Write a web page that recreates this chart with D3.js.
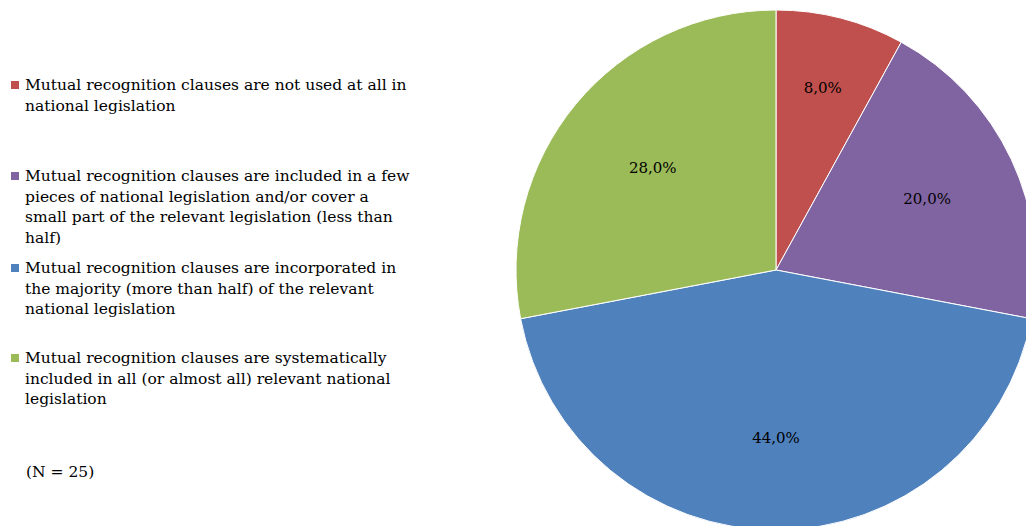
<!DOCTYPE html>
<html>
<head>
<meta charset="utf-8">
<script src="https://cdn.jsdelivr.net/npm/d3@7"></script>
<style>
html,body{margin:0;padding:0;background:#fff;overflow:hidden;}
svg{display:block;}
</style>
</head>
<body>
<svg id="chart" width="1026" height="526"></svg>
<script>
const categories = [
  "Mutual recognition clauses are not used at all in national legislation",
  "Mutual recognition clauses are included in a few pieces of national legislation and/or cover a small part of the relevant legislation (less than half)",
  "Mutual recognition clauses are incorporated in the majority (more than half) of the relevant national legislation",
  "Mutual recognition clauses are systematically included in all (or almost all) relevant national legislation"
];
const legendLines = [
  ["Mutual recognition clauses are not used at all in", "national legislation"],
  ["Mutual recognition clauses are included in a few", "pieces of national legislation and/or cover a", "small part of the relevant legislation (less than", "half)"],
  ["Mutual recognition clauses are incorporated in", "the majority (more than half) of the relevant", "national legislation"],
  ["Mutual recognition clauses are systematically", "included in all (or almost all) relevant national", "legislation"]
];
const values = [8.0, 20.0, 44.0, 28.0];
const colors = ["#C0504D", "#8064A2", "#4F81BD", "#9BBB59"];
const note = "(N = 25)";

const svg = d3.select("#chart");
const font = "'DejaVu Serif', Georgia, serif";

const cx = 776, cy = 270, R = 260;
const labelRadius = [188, 167, 168, 160];
const pie = d3.pie().sort(null).value(d => d);
const arcs = pie(values);
const arc = d3.arc().innerRadius(0).outerRadius(R);

const g = svg.append("g").attr("transform", `translate(${cx},${cy})`);
g.selectAll("path").data(arcs).join("path")
  .attr("d", arc)
  .attr("fill", (d, i) => colors[i])
  .attr("stroke", "#fff")
  .attr("stroke-width", 1);

const fmt = v => d3.format(".1f")(v).replace(".", ",") + "%";
g.selectAll("text").data(arcs).join("text")
  .attr("transform", (d, i) => {
    const lr = labelRadius[i];
    const c = d3.arc().innerRadius(lr).outerRadius(lr).centroid(d);
    return `translate(${c[0]},${c[1]})`;
  })
  .attr("text-anchor", "middle")
  .attr("dy", "0.35em")
  .attr("font-family", font)
  .attr("font-size", 15)
  .attr("fill", "#000")
  .text(d => fmt(d.data));

// legend
const legendTop = [85, 176, 268, 358];
const lineH = 20.5;
const leg = svg.append("g");
legendLines.forEach((lines, i) => {
  leg.append("rect").attr("x", 11).attr("y", legendTop[i] - 4).attr("width", 8).attr("height", 8).attr("fill", colors[i]);
  lines.forEach((t, j) => {
    leg.append("text")
      .attr("x", 25).attr("y", legendTop[i] + j * lineH)
      .attr("dy", "0.35em")
      .attr("font-family", font)
      .attr("font-size", 15.5)
      .attr("fill", "#000")
      .text(t);
  });
});
svg.append("text").attr("x", 26).attr("y", 472).attr("dy", "0.35em")
  .attr("font-family", font).attr("font-size", 15.5).attr("fill", "#000").text(note);
</script>
</body>
</html>
